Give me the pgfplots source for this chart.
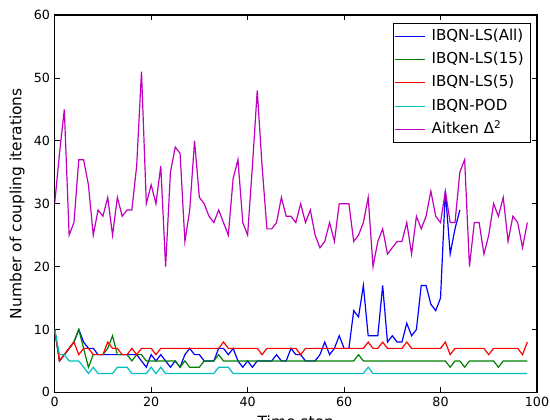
\documentclass[border=0pt]{standalone}
\usepackage{pgfplots}
\usepackage{pgfplotstable}
\pgfplotsset{compat=1.18}
\usepackage{fontspec}
\setmainfont{DejaVu Sans}

\definecolor{mb}{rgb}{0,0,1}
\definecolor{mg}{rgb}{0,0.5,0}
\definecolor{mr}{rgb}{1,0,0}
\definecolor{mc}{rgb}{0,0.75,0.75}
\definecolor{mm}{rgb}{0.75,0,0.75}

% t, IBQN-LS(All), IBQN-LS(15), IBQN-LS(5), IBQN-POD, Aitken
\pgfplotstableread{
t all ls15 ls5 pod aitken
0 10 10 10 10 30
1 5 5 5 6 38
2 6 6 6 6 45
3 7 7 7 5 25
4 8 8 8 5 27
5 10 10 6 5 37
6 8 7 7 4 37
7 7 4 7 3 33
8 7 6 6 4 25
9 6 6 6 3 29
10 6 6 6 3 28
11 6 7 8 3 31
12 6 9 7 3 25
13 6 6 7 4 31
14 6 6 6 4 28
15 6 6 6 4 29
16 6 5 7 3 29
17 6 6 6 3 36
18 5 6 7 3 51
19 4 5 7 3 30
20 6 5 7 4 33
21 5 5 6 3 30
22 6 5 7 4 36
23 5 5 7 3 20
24 4 5 7 3 35
25 5 5 7 3 39
26 4 4 7 3 38
27 6 5 7 3 24
28 7 4 7 3 29
29 6 4 7 3 40
30 6 4 7 3 31
31 5 5 7 3 30
32 5 5 7 3 28
33 5 5 7 3 27
34 7 6 7 4 29
35 7 5 8 4 27
36 6 5 7 4 25
37 7 5 7 3 34
38 5 5 7 3 37
39 4 5 7 3 27
40 5 5 7 3 25
41 4 5 7 3 36
42 5 5 7 3 48
43 5 5 6 3 36
44 5 5 7 3 26
45 5 5 7 3 26
46 6 5 7 3 27
47 5 5 7 3 31
48 5 5 7 3 28
49 7 5 7 3 28
50 6 5 7 3 27
51 6 5 6 3 30
52 5 5 7 3 27
53 5 5 7 3 29
54 5 5 7 3 25
55 6 5 7 3 23
56 8 5 7 3 24
57 6 5 7 3 27
58 7 5 7 3 24
59 9 5 7 3 30
60 7 5 7 3 30
61 7 5 7 3 30
62 13 5 7 3 24
63 12 6 7 3 25
64 17 5 7 3 27
65 9 5 8 4 31
66 9 5 7 3 20
67 9 5 7 3 24
68 17 5 8 3 26
69 8 5 7 3 22
70 9 5 7 3 23
71 8 5 7 3 24
72 8 5 7 3 24
73 11 5 8 3 27
74 9 5 7 3 22
75 10 5 7 3 28
76 17 5 7 3 26
77 17 5 7 3 28
78 14 5 7 3 32
79 13 5 7 3 28
80 15 5 7 3 27
81 32 5 8 3 32
82 22 4 6 3 27
83 26 5 7 3 27
84 29 5 7 3 35
85 nan 4 7 3 37
86 nan 5 7 3 20
87 nan 5 7 3 27
88 nan 5 7 3 27
89 nan 5 7 3 22
90 nan 5 6 3 25
91 nan 5 7 3 30
92 nan 4 7 3 28
93 nan 5 7 3 31
94 nan 5 7 3 24
95 nan 5 7 3 28
96 nan 5 7 3 27
97 nan 5 6 3 23
98 nan 5 8 3 27
}\data

\begin{document}
\begin{tikzpicture}
% axis box sits at (0,0)--(361.7pt,283pt); page cut like the reference
\useasboundingbox (-41pt,-20pt) rectangle (371.45pt,294.25pt);
\begin{axis}[
    at={(0pt,0pt)}, anchor=south west,
    scale only axis,
    width=361.7pt, height=283pt,
    xmin=0, xmax=100, ymin=0, ymax=60,
    xtick={0,20,...,100}, ytick={0,10,...,60},
    tick align=inside, major tick length=4pt,
    tick style={black, line width=0.6pt},
    axis line style={line width=0.8pt},
    ticklabel style={font=\fontsize{9.5}{11}\selectfont},
    /pgf/number format/assume math mode=true,
    xlabel={Time step}, ylabel={Number of coupling iterations},
    label style={font=\fontsize{11.6}{13}\selectfont},
    legend style={at={(0.9875,0.9796)}, anchor=north east,
        draw=black, line width=0.75pt,
        font=\fontsize{11.3}{13}\selectfont,
        inner xsep=0.6pt, inner ysep=1pt, row sep=0pt,
        nodes={text height=9pt, text depth=3pt, inner ysep=2.75pt, inner xsep=4.4pt}},
    legend cell align=left,
    legend image code/.code={%
        \path (0pt,0pt) -- (22.5pt,0pt);
        \draw[#1, line width=0.9pt] (3pt,0pt) -- (19.5pt,0pt);},
    every axis plot/.append style={line width=0.9pt},
]
\addplot[mb] table[x=t, y=all] {\data};
\addlegendentry{IBQN-LS(All)}
\addplot[mg] table[x=t, y=ls15] {\data};
\addlegendentry{IBQN-LS(15)}
\addplot[mr] table[x=t, y=ls5] {\data};
\addlegendentry{IBQN-LS(5)}
\addplot[mc] table[x=t, y=pod] {\data};
\addlegendentry{IBQN-POD}
\addplot[mm] table[x=t, y=aitken] {\data};
\addlegendentry{Aitken Δ\textsuperscript{2}}
\end{axis}
\end{tikzpicture}
\end{document}
